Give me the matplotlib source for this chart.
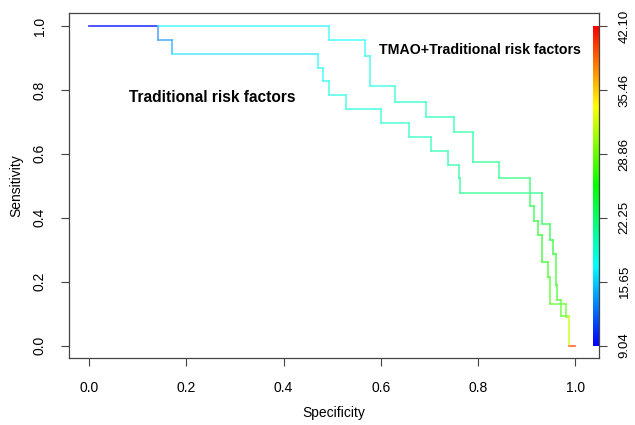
import colorsys

import matplotlib
matplotlib.use("Agg")
import matplotlib.pyplot as plt
import numpy as np
from matplotlib.collections import LineCollection
from matplotlib.colors import ListedColormap, Normalize

plt.rcParams["font.family"] = ["Liberation Sans", "DejaVu Sans"]

# ROC points (specificity, sensitivity) with the cutoff at each point.
trad_spec = [0.0, 0.142, 0.142, 0.171, 0.171, 0.470, 0.470, 0.482, 0.482, 0.494,
             0.494, 0.528, 0.528, 0.600, 0.600, 0.658, 0.658, 0.704, 0.704, 0.739,
             0.739, 0.760, 0.760, 0.763, 0.763, 0.931, 0.931, 0.948, 0.948, 0.955,
             0.955, 0.960, 0.960, 0.963, 0.963, 0.970, 0.970, 0.987, 0.987, 1.0]
trad_sens = [1.0, 1.0, 0.956, 0.956, 0.914, 0.914, 0.870, 0.870, 0.829, 0.829,
             0.784, 0.784, 0.740, 0.740, 0.697, 0.697, 0.653, 0.653, 0.609, 0.609,
             0.564, 0.564, 0.523, 0.523, 0.477, 0.477, 0.381, 0.381, 0.331, 0.331,
             0.285, 0.285, 0.188, 0.188, 0.141, 0.141, 0.093, 0.093, 0.0, 0.0]
trad_cut = [9.04, 13.0, 13.5, 14.0, 16.5, 17.3, 17.5, 17.7, 17.9, 18.1,
            18.3, 18.5, 18.7, 19.0, 19.2, 19.5, 19.7, 20.0, 20.2, 20.5,
            20.7, 21.0, 21.2, 21.4, 21.6, 23.5, 24.0, 24.5, 25.0, 25.3,
            25.6, 26.0, 26.3, 26.6, 27.0, 27.5, 28.0, 32.0, 40.0, 42.10]

tmao_spec = [0.0, 0.142, 0.494, 0.494, 0.567, 0.567, 0.578, 0.578, 0.630, 0.630,
             0.694, 0.694, 0.750, 0.750, 0.790, 0.790, 0.843, 0.843, 0.907, 0.907,
             0.915, 0.915, 0.923, 0.923, 0.931, 0.931, 0.945, 0.945, 0.948, 0.948,
             0.981, 0.981, 0.987, 0.987, 1.0]
tmao_sens = [1.0, 1.0, 1.0, 0.956, 0.956, 0.906, 0.906, 0.812, 0.812, 0.763,
             0.763, 0.716, 0.716, 0.669, 0.669, 0.573, 0.573, 0.525, 0.525, 0.436,
             0.436, 0.390, 0.390, 0.347, 0.347, 0.261, 0.261, 0.214, 0.214, 0.129,
             0.129, 0.089, 0.089, 0.0, 0.0]
tmao_cut = [9.04, 17.0, 17.3, 17.5, 17.8, 18.0, 18.2, 18.5, 19.0, 19.3,
            19.6, 20.0, 20.3, 20.6, 21.0, 21.3, 21.6, 22.0, 23.5, 24.0,
            24.3, 24.6, 25.0, 25.3, 25.6, 26.0, 26.3, 26.6, 27.0, 27.5,
            28.0, 29.0, 32.0, 40.0, 42.10]

cbar_ticks = [9.04, 15.65, 22.25, 28.86, 35.46, 42.10]
CUT_MIN, CUT_MAX = 9.04, 42.10

# ROCR colorize palette: rev(rainbow(256, start=0, end=4/6))
palette = ListedColormap([colorsys.hsv_to_rgb(h, 1, 1) for h in np.linspace(4 / 6, 0, 256)])
norm = Normalize(CUT_MIN, CUT_MAX)

fig = plt.figure(figsize=(6.35, 4.25), dpi=100)
ax = fig.add_axes([0.1091, 0.1569, 0.8342, 0.8118])


def draw_roc(spec, sens, cut):
    pts = np.column_stack([spec, sens])
    segs = np.stack([pts[:-1], pts[1:]], axis=1)
    rgb = palette(norm(np.array(cut[:-1])))[:, :3]
    rgb = rgb * 0.7 + 0.3  # washed-out look of the original
    ax.add_collection(LineCollection(segs, colors=rgb, linewidths=1.1,
                                     capstyle="projecting", zorder=3))


draw_roc(trad_spec, trad_sens, trad_cut)
draw_roc(tmao_spec, tmao_sens, tmao_cut)

# colour key tucked against the right edge of the box
ax.imshow(np.linspace(0, 1, 256)[:, None], cmap=palette, origin="lower",
          extent=[1.037, 1.048, 0, 1], aspect="auto", zorder=2)

ax.text(0.2535, 0.778, "Traditional risk factors", fontsize=11.2,
        fontweight="bold", ha="center", va="center")
ax.text(0.803, 0.925, "TMAO+Traditional risk factors", fontsize=10.2,
        fontweight="bold", ha="center", va="center")

ax.set_xlim(-0.041, 1.049)
ax.set_ylim(-0.04, 1.04)
ticks = [0.0, 0.2, 0.4, 0.6, 0.8, 1.0]
ax.set_xticks(ticks)
ax.set_yticks(ticks)
ax.set_xticklabels([f"{t:.1f}" for t in ticks])
ax.set_yticklabels([f"{t:.1f}" for t in ticks], rotation=90, va="center")
ax.tick_params(direction="out", length=6.1, width=0.8, color="#444444",
               labelsize=10, pad=10)
ax.set_xlabel("Specificity", fontsize=10, labelpad=8)
ax.set_ylabel("Sensitivity", fontsize=10, labelpad=7)
for spine in ax.spines.values():
    spine.set_color("#444444")
    spine.set_linewidth(0.9)

ax2 = ax.twinx()
ax2.set_ylim(-0.04, 1.04)
ax2.set_yticks([(t - CUT_MIN) / (CUT_MAX - CUT_MIN) for t in cbar_ticks])
ax2.set_yticklabels([f"{t:.2f}" for t in cbar_ticks], rotation=90, va="center")
ax2.tick_params(direction="out", length=6.1, width=0.8, color="#444444",
                labelsize=9.5, pad=8)
for spine in ax2.spines.values():
    spine.set_visible(False)

fig.savefig("out.png", dpi=100)
